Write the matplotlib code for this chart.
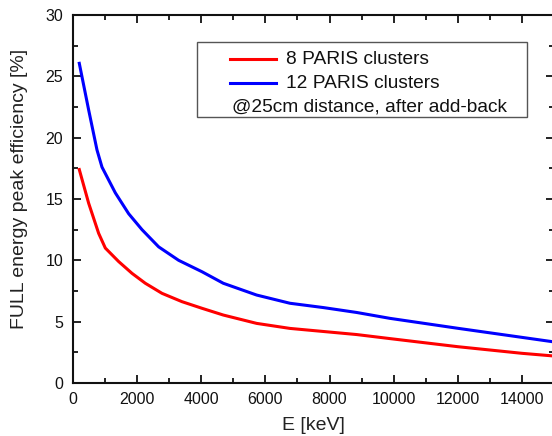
import matplotlib
matplotlib.use("Agg")
import matplotlib.pyplot as plt
from matplotlib.ticker import MultipleLocator
from matplotlib.patches import Rectangle
from matplotlib.lines import Line2D

plt.rcParams['font.family'] = ['Liberation Sans', 'DejaVu Sans']

# Data
e_red = [196, 489, 800, 1008, 1424, 1840, 2255, 2775, 3399, 4023, 4687, 5727, 6766,
         7805, 8845, 9884, 12000, 14000, 15000]
eff_8 = [17.4, 14.65, 12.2, 11.0, 9.9, 8.94, 8.13, 7.31, 6.63, 6.09, 5.54, 4.86, 4.45,
         4.2, 3.95, 3.62, 2.96, 2.42, 2.2]
e_blue = [196, 489, 748, 904, 1320, 1736, 2152, 2671, 3295, 4023, 4687, 5727, 6766,
          7805, 8845, 9884, 12000, 14000, 15000]
eff_12 = [26.06, 22.25, 19.0, 17.6, 15.5, 13.8, 12.5, 11.1, 10.0, 9.07, 8.13, 7.17, 6.5,
          6.15, 5.75, 5.27, 4.46, 3.72, 3.35]
labels = ["8 PARIS clusters", "12 PARIS clusters"]
note = "@25cm distance, after add-back"

W, H = 552, 436
fig = plt.figure(figsize=(W/100, H/100), dpi=100)
ax = fig.add_axes([73/W, 1-383/H, (554-73)/W, (383-15)/H])

ax.plot(e_red, eff_8, color='#ff0000', lw=2.2, solid_joinstyle='round')
ax.plot(e_blue, eff_12, color='#0000ff', lw=2.2, solid_joinstyle='round')

ax.set_xlim(0, 15000)
ax.set_ylim(0, 30)
ax.xaxis.set_major_locator(MultipleLocator(2000))
ax.xaxis.set_minor_locator(MultipleLocator(1000))
ax.yaxis.set_major_locator(MultipleLocator(5))
ax.yaxis.set_minor_locator(MultipleLocator(2.5))
ax.tick_params(which='both', direction='in', top=True, right=True, width=1.3, labelsize=11.5, colors='#111111')
ax.tick_params(which='major', length=6)
ax.tick_params(which='minor', length=3.5)
ax.tick_params(axis='x', pad=6.5)
ax.tick_params(axis='y', pad=7)
for s in ax.spines.values():
    s.set_linewidth(1.5)
    s.set_color('#111111')

AW, AH = 554-73, 383-15
def ax_x(px): return (px-73)/AW
def ax_y(py): return (383-py)/AH

ax.set_xlabel("E [keV]", fontsize=14, color='#222222', labelpad=7.5)
ax.set_ylabel("FULL energy peak efficiency [%]", fontsize=14, color='#222222')
ax.yaxis.set_label_coords(ax_x(28), ax_y(189))

# Legend box
ax.add_patch(Rectangle((ax_x(197), ax_y(117)), ax_x(527)-ax_x(197), ax_y(42)-ax_y(117),
                       transform=ax.transAxes, facecolor='white', edgecolor='#555555', lw=1.0, zorder=5))
colors = ['#ff0000', '#0000ff']
rows = [59, 83]
for lab, c, r in zip(labels, colors, rows):
    ax.add_line(Line2D([ax_x(230), ax_x(276)], [ax_y(r), ax_y(r)], transform=ax.transAxes,
                       color=c, lw=2.2, zorder=6))
    ax.text(ax_x(286), ax_y(r), lab, transform=ax.transAxes, fontsize=13.8, va='center', ha='left',
            color='#111111', zorder=6)
ax.text(ax_x(232), ax_y(107), note, transform=ax.transAxes, fontsize=13.8, va='center', ha='left',
        color='#111111', zorder=6)

fig.savefig("out.png", dpi=100)
